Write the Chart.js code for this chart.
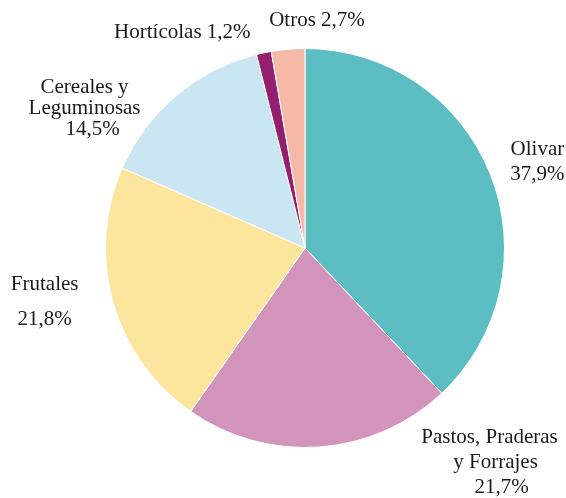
<!DOCTYPE html>
<html lang="es">
<head>
  <meta charset="UTF-8">
  <title>Superficie por cultivo</title>
  <style>
    body { margin: 0; background: #ffffff; }
    #wrap { width: 566px; height: 498px; }
  </style>
</head>
<body>
  <div id="wrap"><canvas id="pieChart"></canvas></div>

  <script src="https://cdn.jsdelivr.net/npm/chart.js"></script>
  <script>
    // slices, clockwise from 12 o'clock
    const categories = ['Olivar', 'Pastos, Praderas y Forrajes', 'Frutales', 'Cereales y Leguminosas', 'Hortícolas', 'Otros'];
    const shares = [37.9, 21.7, 21.8, 14.5, 1.2, 2.7];
    const colors = ['#5cbec2', '#d294bb', '#fce59c', '#cbe6f3', '#931f6f', '#f5b9a6'];

    // label text lines as printed next to each slice
    const labelLines = [
      ['Olivar', '37,9%'],
      ['Pastos, Praderas', 'y Forrajes', '21,7%'],
      ['Frutales', '21,8%'],
      ['Cereales y', 'Leguminosas', '14,5%'],
      ['Hortícolas 1,2%'],
      ['Otros 2,7%']
    ];
    // label block centre, relative to pie centre in radius units
    const labelDx = [1.165, 0.935, -1.305, -1.105, -0.615, 0.06];
    const labelDy = [-0.43, 1.075, 0.27, -0.70, -1.08, -1.14];
    const labelGap = [25, 25, 35, 21, 0, 0];
    // small per-line x shifts (px) for the staggered blocks
    const lineShift = [[0, 0], [-2, 4, 10], [0, 0], [0, 0, 8], [0], [0]];

    const pieLabels = {
      id: 'pieLabels',
      afterDatasetsDraw(chart) {
        const arc = chart.getDatasetMeta(0).data[0];
        const cx = arc.x, cy = arc.y, r = arc.outerRadius;
        const ctx = chart.ctx;
        ctx.save();
        ctx.font = '21px "Liberation Serif", "Times New Roman", serif';
        ctx.fillStyle = '#1a1a1a';
        ctx.textAlign = 'center';
        ctx.textBaseline = 'middle';
        labelLines.forEach((lines, i) => {
          const bx = cx + labelDx[i] * r;
          const by = cy + labelDy[i] * r;
          const top = by - (lines.length - 1) * labelGap[i] / 2;
          lines.forEach((t, j) => {
            ctx.fillText(t, bx + lineShift[i][j], top + j * labelGap[i]);
          });
        });
        ctx.restore();
      }
    };

    new Chart(document.getElementById('pieChart'), {
      type: 'pie',
      data: {
        labels: categories,
        datasets: [{
          data: shares,
          backgroundColor: colors,
          borderColor: '#ffffff',
          borderWidth: 1
        }]
      },
      options: {
        responsive: true,
        maintainAspectRatio: false,
        animation: false,
        layout: { padding: { top: 48, bottom: 50, left: 105, right: 61 } },
        plugins: {
          legend: { display: false },
          tooltip: { enabled: false }
        }
      },
      plugins: [pieLabels]
    });
  </script>
</body>
</html>
